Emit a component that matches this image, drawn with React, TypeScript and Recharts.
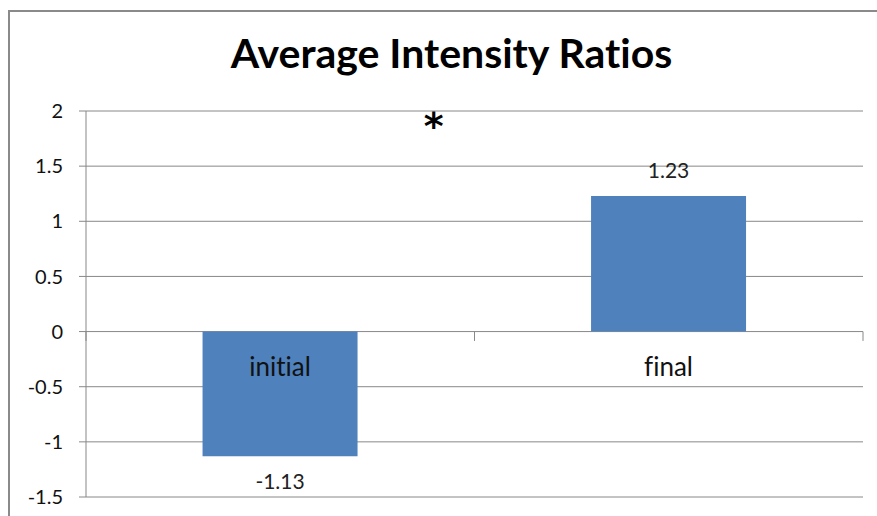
import { BarChart, Bar, XAxis, YAxis, CartesianGrid, ReferenceLine, ReferenceDot, LabelList } from "recharts";

const categories = ["initial", "final"];
const ratios = [-1.13, 1.23];
const yTicks = [-1.5, -1, -0.5, 0, 0.5, 1, 1.5, 2];
const boundaryTicks = [0, 1, 2];
const chartTitle = "Average Intensity Ratios";
const starMark = "*";
const starPos = { x: 0.895, y: 1.87 };

const data = categories.map((name, i) => ({ name, value: ratios[i] }));

const FONT = "Lato, 'Open Sans', sans-serif";
const GRID = "#888888";
const BLUE = "#4F81BD";
const noLig = { fontVariantLigatures: "none" } as const;

function barBox(props: any) {
  const vb = props.viewBox ?? props;
  const x = Number(vb.x ?? props.x);
  const y = Number(vb.y ?? props.y);
  const w = Number(vb.width ?? props.width);
  const h = Number(vb.height ?? props.height);
  return { x, top: Math.min(y, y + h), bottom: Math.max(y, y + h), w };
}

const renderValueLabel = (props: any) => {
  const { x, top, bottom, w } = barBox(props);
  const v = Number(props.value);
  const ty = v >= 0 ? top - 18 : bottom + 33;
  return (
    <text x={x + w / 2} y={ty} textAnchor="middle" fontSize={21} fontFamily={FONT} fill="#222" style={noLig}>
      {props.value}
    </text>
  );
};

const renderCategoryLabel = (props: any) => {
  const { x, top, bottom, w } = barBox(props);
  const v = ratios[props.index] ?? 0;
  const zero = v >= 0 ? bottom : top;
  return (
    <text x={x + w / 2} y={zero + 44} textAnchor="middle" fontSize={26} fontFamily={FONT} fill="#111" style={noLig}>
      {props.value}
    </text>
  );
};

export default function App() {
  return (
    <div style={{ position: "absolute", left: 0, top: 0, width: 877, height: 516, overflow: "hidden", background: "#fff" }}>
      <div
        style={{
          position: "absolute",
          left: 8,
          top: 10,
          width: 900,
          height: 600,
          border: "2px solid #8a8a8a",
        }}
      />
      <div
        style={{
          position: "absolute",
          left: 0,
          top: 32,
          width: 903,
          textAlign: "center",
          fontFamily: FONT,
          fontWeight: 700,
          fontSize: 41,
          lineHeight: "41px",
          color: "#000",
          fontVariantLigatures: "none",
        }}
      >
        {chartTitle}
      </div>
      <BarChart
        width={877}
        height={516}
        data={data}
        margin={{ top: 111, right: 14, bottom: 19, left: 26 }}
        barCategoryGap="30%"
        style={{ position: "absolute", left: 0, top: 0 }}
      >
        <CartesianGrid vertical={false} stroke={GRID} strokeWidth={1} />
        <XAxis dataKey="name" hide />
        {/* hidden linear axis over the two category slots, for boundary ticks and the star */}
        <XAxis xAxisId="b" dataKey="value" type="number" domain={[0, 2]} allowDataOverflow hide />
        <YAxis
          width={60}
          domain={[-1.5, 2]}
          ticks={yTicks}
          interval={0}
          tickSize={7}
          tickMargin={16}
          axisLine={{ stroke: GRID }}
          tickLine={{ stroke: GRID }}
          tick={{ fill: "#111", fontSize: 20, fontFamily: FONT }}
        />
        {boundaryTicks.map((b) => (
          <ReferenceLine
            key={b}
            xAxisId="b"
            segment={[
              { x: b, y: 0 },
              { x: b, y: -0.085 },
            ]}
            stroke={GRID}
            ifOverflow="visible"
          />
        ))}
        <Bar dataKey="value" fill={BLUE} isAnimationActive={false}>
          <LabelList dataKey="value" content={renderValueLabel} />
          <LabelList dataKey="name" content={renderCategoryLabel} />
        </Bar>
        <ReferenceDot
          xAxisId="b"
          x={starPos.x}
          y={starPos.y}
          r={1}
          fill="none"
          stroke="none"
          label={{
            value: starMark,
            position: "center",
            fontSize: 38,
            fontWeight: 700,
            fontFamily: "'DejaVu Sans', sans-serif",
            fill: "#000",
          }}
        />
      </BarChart>
    </div>
  );
}
